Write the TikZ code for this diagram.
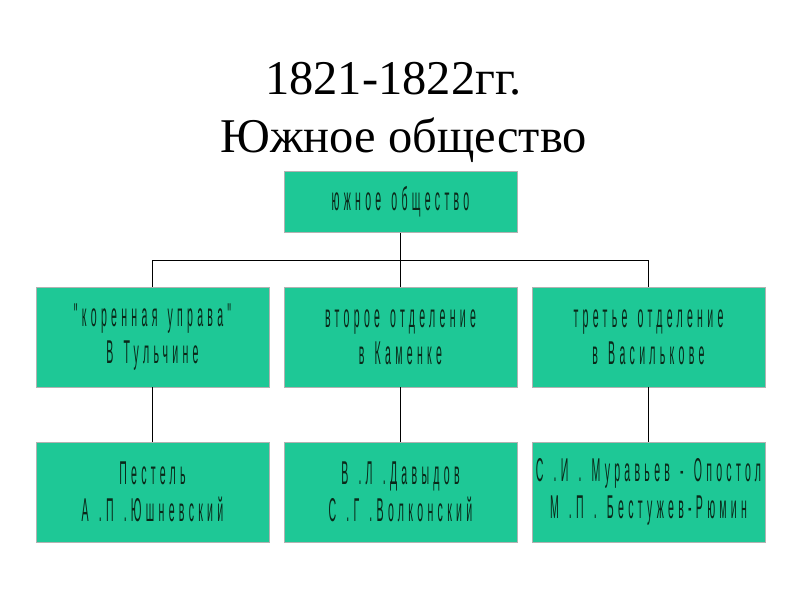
\documentclass[tikz,border=0pt]{standalone}
\usepackage{fontspec}
\setmainfont{Liberation Serif}
\newfontfamily\boxfont{Liberation Sans}[FakeStretch=0.32,LetterSpace=13,WordSpace=1.4]
\definecolor{boxgreen}{RGB}{30,200,150}
\definecolor{boxtext}{RGB}{10,40,25}
\begin{document}
\begin{tikzpicture}[x=1pt,y=-1pt,
  orgbox/.style={fill=boxgreen,draw=black!30,line width=0.6pt,minimum width=233pt,inner sep=0pt,
    align=center,text=boxtext,font=\boxfont\fontsize{33}{37}\selectfont},
  tallbox/.style={orgbox,minimum height=100pt},
  conn/.style={draw=black,line width=1pt},
  titletext/.style={anchor=base,inner sep=0pt,font=\fontsize{48.5}{56}\selectfont}]
\useasboundingbox (0,0) rectangle (800,600);
\node[titletext] (t1) at (393.5,94) {1821-1822гг.};
\node[titletext] (t2) at (403.5,152) {Южное общество};
\node[orgbox,minimum height=61pt] (top) at (400.5,202) {южное общество};
\node[tallbox] (b1) at (152.5,337) {"коренная управа"\\В Тульчине};
\node[tallbox] (b2) at (400.5,337) {второе отделение\\в Каменке};
\node[tallbox] (b3) at (648.5,337) {третье отделение\\в Василькове};
\node[tallbox] (c1) at (152.5,492) {Пестель\\А .П .Юшневский};
\node[tallbox] (c2) at (400.5,492) {В .Л .Давыдов\\С .Г .Волконский};
\node[tallbox] (c3) at (648.5,492) {С .И . Муравьев - Опостол\\М .П . Бестужев-Рюмин};
\coordinate (busR) at (648.5,260);
\draw[conn] (top.south) -- (b2.north);
\draw[conn] (b1.north) |- (busR) -- (b3.north);
\draw[conn] (b1.south) -- (c1.north);
\draw[conn] (b2.south) -- (c2.north);
\draw[conn] (b3.south) -- (c3.north);
\end{tikzpicture}
\end{document}
